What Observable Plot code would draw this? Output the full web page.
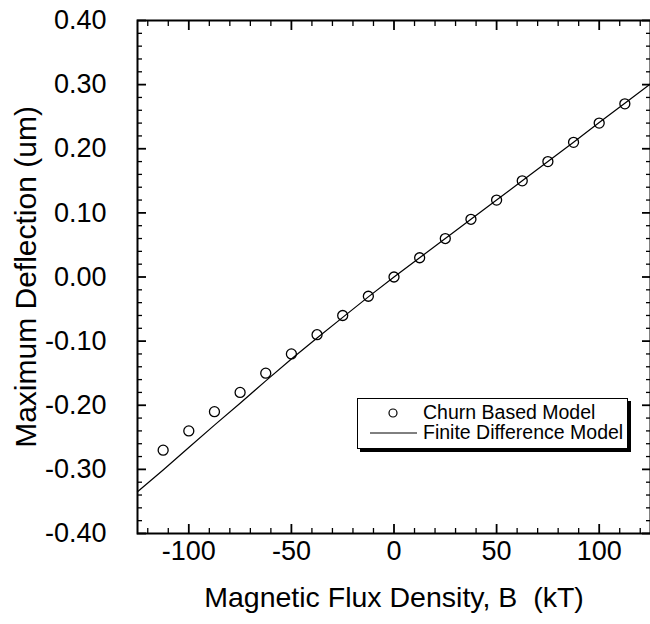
<!DOCTYPE html>
<html><head><meta charset="utf-8">
<script src="https://cdn.jsdelivr.net/npm/d3@7"></script>
<script src="https://cdn.jsdelivr.net/npm/@observablehq/plot@0.6"></script>
<style>
body{margin:0;background:#fff;}
#wrap{position:relative;width:650px;height:624px;font-family:"Liberation Sans",Arial,Helvetica,sans-serif;}
.legend{position:absolute;left:357px;top:398px;width:269px;height:49px;border:1px solid #000;box-shadow:3px 3px 0 #000;background:#fff;font-size:19.5px;color:#000;}
.legend .sym{position:absolute;left:0;top:0;}
.legend .t{position:absolute;left:65px;line-height:19px;white-space:nowrap;}
</style></head><body><div id="wrap"></div>
<script>
// Churn Based Model (circles)
const churnB = [-112.5,-100,-87.5,-75,-62.5,-50,-37.5,-25,-12.5,0,12.5,25,37.5,50,62.5,75,87.5,100,112.5];
const churnDefl = [-0.27,-0.24,-0.21,-0.18,-0.15,-0.12,-0.09,-0.06,-0.03,0,0.03,0.06,0.09,0.12,0.15,0.18,0.21,0.24,0.27];
// Finite Difference Model (line)
const fdB = [-125,-112.5,-100,-87.5,-75,-62.5,-50,-37.5,-25,-12.5,0,12.5,25,37.5,50,62.5,75,87.5,100,112.5,125];
const fdDefl = [-0.335,-0.301,-0.266,-0.231,-0.197,-0.162,-0.128,-0.095,-0.063,-0.031,0,0.030,0.060,0.090,0.120,0.150,0.180,0.210,0.241,0.271,0.301];
// axes
const xMajorTicks = [-100,-50,0,50,100];
const xMinorTicks = [-120,-110,-90,-80,-70,-60,-40,-30,-20,-10,10,20,30,40,60,70,80,90,110,120];
const yMajorTicks = [-0.4,-0.3,-0.2,-0.1,0,0.1,0.2,0.3,0.4];
const yMinorTicks = [-0.38,-0.36,-0.34,-0.32,-0.28,-0.26,-0.24,-0.22,-0.18,-0.16,-0.14,-0.12,-0.08,-0.06,-0.04,-0.02,0.02,0.04,0.06,0.08,0.12,0.14,0.16,0.18,0.22,0.24,0.26,0.28,0.32,0.34,0.36,0.38];
const xLabel = "Magnetic Flux Density, B\u00a0 (kT)";
const yLabel = "Maximum Deflection (um)";
const legendLabels = ["Churn Based Model", "Finite Difference Model"];

const churn = churnB.map((b,i)=>({b, d: churnDefl[i]}));
const fd = fdB.map((b,i)=>({b, d: fdDefl[i]}));
const fmtY = d3.formatLocale({decimal:".",thousands:",",grouping:[3],currency:["$",""],minus:"-"}).format(".2f");
const fmtX = d => String(d);
const blank = () => "";
const FS = 27;

const chart = Plot.plot({
  width: 650, height: 624,
  marginLeft: 137, marginRight: 0, marginTop: 20, marginBottom: 91,
  x: {domain: [-125, 125]},
  y: {domain: [-0.4, 0.4]},
  style: {fontFamily: '"Liberation Sans", Arial, Helvetica, sans-serif', fontSize: FS + "px", color: "#000", background: "transparent"},
  marks: [
    Plot.axisX(xMinorTicks, {anchor: "bottom", tickSize: -5, tickFormat: blank, label: null, strokeWidth: 1.3}),
    Plot.axisX(xMinorTicks, {anchor: "top", tickSize: -5, tickFormat: blank, label: null, strokeWidth: 1.3}),
    Plot.axisX(xMajorTicks, {anchor: "bottom", tickSize: -9, tickFormat: blank, label: null, strokeWidth: 1.8}),
    Plot.axisX(xMajorTicks, {anchor: "top", tickSize: -9, tickFormat: blank, label: null, strokeWidth: 1.8}),
    Plot.axisX(xMajorTicks, {anchor: "bottom", tickSize: 0, tickPadding: 7, tickFormat: fmtX, label: null, fontSize: FS}),
    Plot.axisY(yMinorTicks, {anchor: "left", tickSize: -5, tickFormat: blank, label: null, strokeWidth: 1.3}),
    Plot.axisY(yMinorTicks, {anchor: "right", tickSize: -5, tickFormat: blank, label: null, strokeWidth: 1.3}),
    Plot.axisY(yMajorTicks, {anchor: "left", tickSize: -9, tickFormat: blank, label: null, strokeWidth: 1.8}),
    Plot.axisY(yMajorTicks, {anchor: "right", tickSize: -9, tickFormat: blank, label: null, strokeWidth: 1.8}),
    Plot.axisY(yMajorTicks, {anchor: "left", tickSize: 0, tickPadding: 31, tickFormat: fmtY, label: null, fontSize: FS}),
    Plot.frame({stroke: "#000", strokeWidth: 2}),
    Plot.line(fd, {x: "b", y: "d", stroke: "#000", strokeWidth: 1.2}),
    Plot.dot(churn, {x: "b", y: "d", r: 5, stroke: "#000", strokeWidth: 1.3, fill: "none"}),
    Plot.text([xLabel], {frameAnchor: "bottom", dy: 64, textAnchor: "middle", lineAnchor: "middle", fontSize: 28.5, fill: "#000"}),
    Plot.text([yLabel], {frameAnchor: "left", dx: -111, rotate: -90, textAnchor: "middle", lineAnchor: "middle", fontSize: 30, fill: "#000"})
  ]
});
const wrap = document.getElementById("wrap");
wrap.appendChild(chart);

const lg = document.createElement("div");
lg.className = "legend";
lg.innerHTML =
  '<svg class="sym" width="269" height="49">' +
  '<circle cx="35" cy="14" r="4" fill="none" stroke="#000" stroke-width="1.2"></circle>' +
  '<line x1="12" x2="59" y1="34" y2="34" stroke="#000" stroke-width="1"></line></svg>' +
  '<div class="t" style="top:4px">' + legendLabels[0] + '</div>' +
  '<div class="t" style="top:24px">' + legendLabels[1] + '</div>';
wrap.appendChild(lg);
</script>
</body></html>
